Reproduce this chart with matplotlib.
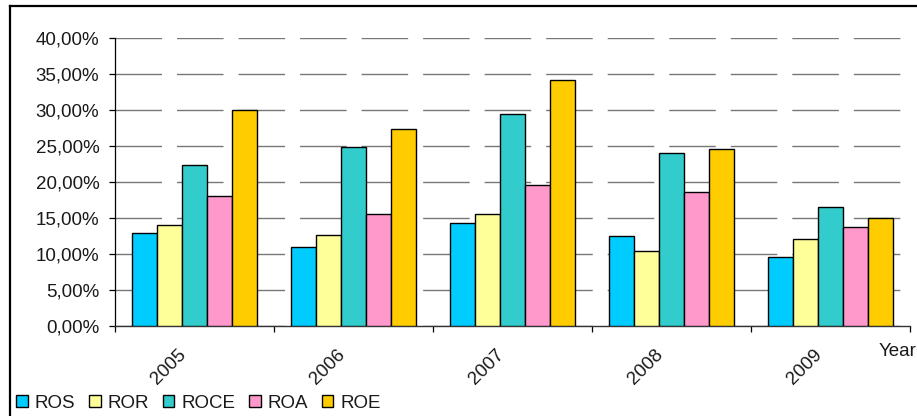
import matplotlib
matplotlib.use("Agg")
import matplotlib.pyplot as plt
import matplotlib.transforms as mtransforms
from matplotlib.lines import Line2D
from matplotlib.ticker import FuncFormatter, FixedLocator
import numpy as np

plt.rcParams['font.family'] = ['Liberation Sans', 'DejaVu Sans']

years = ['2005', '2006', '2007', '2008', '2009']
series = ['ROS', 'ROR', 'ROCE', 'ROA', 'ROE']
ros = [12.9, 11.0, 14.35, 12.5, 9.6]
ror = [14.0, 12.7, 15.6, 10.4, 12.1]
roce = [22.3, 24.9, 29.4, 24.0, 16.5]
roa = [18.1, 15.6, 19.6, 18.6, 13.8]
roe = [30.0, 27.3, 34.2, 24.6, 15.0]
colors = ['#00CCFF', '#FFFF99', '#33CCCC', '#FF99CC', '#FFCC00']

W, H = 917, 416
fig = plt.figure(figsize=(W / 100, H / 100), dpi=100)
ax = fig.add_axes([115 / W, (H - 326) / H, 795 / W, 288 / H])

values = [ros, ror, roce, roa, roe]
x = np.arange(len(years))
bw = 0.156
start = -2.5 * bw + bw / 2
for i, (name, vals, c) in enumerate(zip(series, values, colors)):
    ax.bar(x + start + i * bw, np.array(vals) / 100.0, width=bw, color=c,
           edgecolor='black', linewidth=1.0, label=name, zorder=3)

ax.set_xlim(-0.5, len(years) - 0.5)
ax.set_ylim(0, 0.40)

# y axis
ax.set_yticks(np.arange(0, 0.401, 0.05))
ax.yaxis.set_major_formatter(FuncFormatter(lambda v, p: f"{v*100:.2f}%".replace('.', ',')))
ax.tick_params(axis='y', length=4.3, width=0.9, color='black', pad=7,
               labelsize=13.5, labelcolor='#1a1a1a')

# dashed horizontal grid
ax.yaxis.grid(True, color='#777777', linewidth=1.0,
              linestyle=(0, (33.5, 10.8)), zorder=1)
ax.set_axisbelow(True)

# x axis: boundary ticks as major, labels on minor ticks
ax.xaxis.set_major_locator(FixedLocator(np.arange(-0.5, len(years), 1.0)))
ax.xaxis.set_major_formatter(FuncFormatter(lambda v, p: ''))
ax.xaxis.set_minor_locator(FixedLocator(x))
ax.set_xticklabels(years, minor=True)
ax.tick_params(axis='x', which='major', length=4.3, width=0.9, color='black')
ax.tick_params(axis='x', which='minor', length=0, labelsize=13.5,
               labelcolor='#1a1a1a', pad=0)
offset = mtransforms.ScaledTranslation(-26 / 100, -41 / 100, fig.dpi_scale_trans)
for lab in ax.get_xticklabels(minor=True):
    lab.set_rotation(45)
    lab.set_ha('center')
    lab.set_va('center')
    lab.set_rotation_mode('anchor')
    lab.set_transform(lab.get_transform() + offset)

for s in ['top', 'right']:
    ax.spines[s].set_visible(False)
ax.spines['left'].set_color('black')
ax.spines['left'].set_linewidth(0.9)
ax.spines['bottom'].set_color('#333333')
ax.spines['bottom'].set_linewidth(1.0)

fig.text(879 / W, 1 - 352 / H, 'Year', ha='left', va='center',
         fontsize=13.5, color='#1a1a1a')

fig.legend(loc='center left', bbox_to_anchor=(16 / W, 1 - 403 / H), ncol=5,
           frameon=False, fontsize=13.5, handlelength=0.62, handleheight=0.66,
           handletextpad=0.38, columnspacing=0.72, borderpad=0, borderaxespad=0,
           labelcolor='#1a1a1a')

# outer chart frame
fig.add_artist(Line2D([10 / W, 1.0], [1 - 6 / H, 1 - 6 / H],
                      transform=fig.transFigure, color='black', linewidth=1.6))
fig.add_artist(Line2D([10 / W, 10 / W], [1 - 6 / H, 0.0],
                      transform=fig.transFigure, color='black', linewidth=1.6))

fig.savefig('out.png', dpi=100)
